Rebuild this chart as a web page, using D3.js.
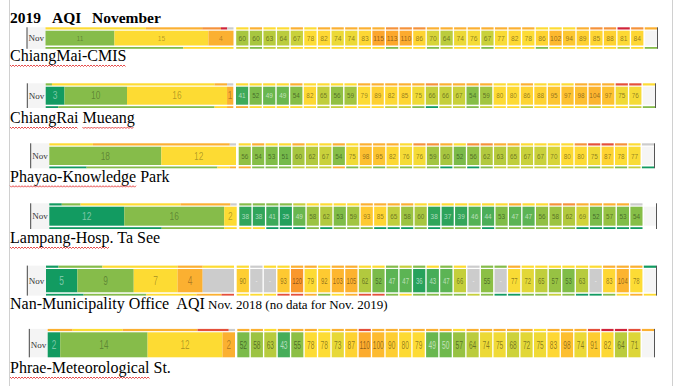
<!DOCTYPE html>
<html>
<head>
<meta charset="utf-8">
<script src="https://cdn.jsdelivr.net/npm/d3@7"></script>
<style>
  body { margin: 0; background: #fff; }
  svg { display: block; }
  text { white-space: pre; }
</style>
</head>
<body>
<script>
const width = 674;
const height = 386;

// daily AQI, 1..30 Nov (null = no data)
const aqiChiangMai = [60,60,63,64,67,78,82,74,74,83,115,113,110,86,70,64,74,76,67,77,82,78,86,102,94,89,85,88,81,84];
const aqiChiangRai = [41,52,49,49,54,82,65,56,59,79,89,82,85,75,66,66,67,54,59,80,80,86,88,95,97,98,104,97,75,76];
const aqiPhayao    = [56,54,53,51,60,62,67,54,75,98,95,82,76,76,59,60,52,56,62,63,65,67,67,70,80,80,75,87,78,77];
const aqiLampang   = [38,38,41,35,49,58,62,53,59,93,85,65,58,60,38,37,39,46,44,53,47,47,56,58,62,69,52,57,53,54];
const aqiNan       = [90,null,null,93,120,79,92,103,105,62,52,47,47,36,43,47,66,null,55,null,77,72,65,57,53,63,null,83,104,78];
const aqiPhrae     = [52,58,63,43,55,78,78,73,87,110,100,90,80,79,49,50,57,64,74,75,68,72,75,83,98,74,91,82,64,71];

// days per level: 0-50, 51-74, 75-100, 101+, no data
const levelColors = ["#129b61", "#86bc4a", "#fddb33", "#fbb031", "#cccccc"];
const countsChiangMai = [0, 11, 15, 4, 0];
const countsChiangRai = [3, 10, 16, 1, 0];
const countsPhayao    = [0, 18, 12, 0, 0];
const countsLampang   = [12, 16, 2, 0, 0];
const countsNan       = [5, 9, 7, 4, 5];
const countsPhrae     = [2, 14, 12, 2, 0];

// thin strips of the neighbouring months (colour codes)
const edgeColors = {G: "#129b61", g: "#86bc4a", l: "#c6cf3c", y: "#fddb33", o: "#fbb031",
                    O: "#f5923a", r: "#e4503a", R: "#d0243a", x: "#cccccc"};
const sumTop = [
  [["y",16],["o",9],["O",3],["R",1],["x",1]],
  [["g",1],["y",26],["o",2],["x",1]],
  [["y",7],["o",22],["x",1]],
  [["G",2],["g",3],["y",16],["o",8],["x",1]],
  [["G",2],["g",7],["y",12],["o",4],["y",5]],
  [["o",4],["y",8],["o",12],["r",5],["x",1]]
];
const sumBottom = [
  [["g",22],["y",8]],
  [["G",2],["g",25],["y",2],["o",1]],
  [["G",6],["g",21],["y",2],["o",1]],
  [["G",18],["g",10],["y",2]],
  [["G",6],["g",10],["y",8],["o",4],["r",2]],
  []
];
const dayTop = [
  "yoyyoyoooooOOOooooooooyyyoOOROox",
  "yyyyoyyyyoooooOooooyyoyyyooorryx",
  "yoyyoyyoyoooyOOoyOOooyyyyOrrOyx",
  "gggglyyyyooooyyyyyyyoyyOOoooox",
  "yxyyooyooyyglgygyxggoyyyyyyoooG",
  "ooyoooyoorooooooyoooooyooorRRrox"
];
const dayBottom = [
  "lgllyyyyyyygyyglyygyyygyyyyylyg",
  "oyyyyyllyyyllgGllglyylyyyylyylgG",
  "ogggllloglglglgGgGglllllllglglG",
  "yyGGGgGgggGGGgGgggGgggglgGGGGG",
  "yyyrrogyorrgygggglgGGgglgGGgyoy",
  ""
];

const stations = [
  {aqi: aqiChiangMai, counts: countsChiangMai,
   label: [{t: "ChiangMai-CMIS", err: true}]},
  {aqi: aqiChiangRai, counts: countsChiangRai,
   label: [{t: "ChiangRai", err: true}, {t: " "}, {t: "Mueang", err: true}]},
  {aqi: aqiPhayao, counts: countsPhayao,
   label: [{t: "Phayao-Knowledge", err: true}, {t: " Park"}]},
  {aqi: aqiLampang, counts: countsLampang,
   label: [{t: "Lampang-Hosp", err: true}, {t: ". Ta See"}]},
  {aqi: aqiNan, counts: countsNan,
   label: [{t: "Nan-Municipality Office  AQI"}, {t: " Nov. 2018 (no data for Nov. 2019)", small: true}]},
  {aqi: aqiPhrae, counts: countsPhrae,
   label: [{t: "Phrae-Meteorological", err: true}, {t: " St."}]}
];

// where each pasted strip sits on the page
const rowLayout = [
  {x0: 27,   sx: 45.5, se: 233.5, dx: 236.2, de: 657, y: 30.7,  h: 14.8, lab: 61,  fs: 7.5, fx: 0.9,  sfs: 7.5,  sfx: 0.9},
  {x0: 27.3, sx: 45.7, se: 233.3, dx: 236,   de: 655, y: 86.7,  h: 18,   lab: 123, fs: 7.5, fx: 0.85, sfs: 10.5, sfx: 0.8},
  {x0: 30.7, sx: 49.3, se: 236,   dx: 238.7, de: 654, y: 146.7, h: 18.3, lab: 181.7, fs: 8, fx: 0.8, sfs: 10.5, sfx: 0.8},
  {x0: 30.7, sx: 49.3, se: 236.7, dx: 239.3, de: 656, y: 206.7, h: 19,   lab: 243, fs: 8,   fx: 0.8,  sfs: 10.5, sfx: 0.8},
  {x0: 27.3, sx: 46,   se: 234,   dx: 236.7, de: 656, y: 269,   h: 23.3, lab: 309.3, fs: 8.5, fx: 0.7, sfs: 12, sfx: 0.7},
  {x0: 29.3, sx: 47.7, se: 235,   dx: 237.3, de: 654, y: 332.3, h: 25,   lab: 373, fs: 11,  fx: 0.6,  sfs: 12.5, sfx: 0.65}
];

const aqiColor = d3.scaleLinear()
  .domain([35, 45, 50, 55, 62, 68, 74, 78, 88, 98, 108, 116, 122])
  .range(["#23a05c","#4fb058","#6fb94d","#8cbf45","#b2c93e","#cdd23a","#ecd936",
          "#fddc35","#fed232","#fdbf30","#fcad2e","#fca52d","#f7902c"])
  .clamp(true);

const svg = d3.select("body").append("svg")
  .attr("width", width)
  .attr("height", height);

// page margin lines
svg.append("line").attr("x1", 9.5).attr("x2", 9.5).attr("y1", 0).attr("y2", height)
  .attr("stroke", "#d0d0d0");
svg.append("line").attr("x1", 672.5).attr("x2", 672.5).attr("y1", 0).attr("y2", height)
  .attr("stroke", "#d0d0d0");

// title
const title = svg.append("text")
  .attr("y", 22.5)
  .attr("font-family", "Liberation Serif, Times New Roman, serif")
  .attr("font-weight", "bold")
  .attr("font-size", 15.5);
title.append("tspan").attr("x", 10).text("2019");
title.append("tspan").attr("x", 52).text("AQI");
title.append("tspan").attr("x", 92).text("November");

function drawEdge(g, segs, x, y, h) {
  let acc = 0;
  segs.forEach(([c, n]) => {
    g.append("rect")
      .attr("x", x(acc)).attr("y", y)
      .attr("width", x(acc + n) - x(acc)).attr("height", h)
      .attr("fill", edgeColors[c]);
    acc += n;
  });
}

function drawDayEdge(g, codes, band, y, h) {
  g.selectAll(null)
    .data(codes.split("").slice(0, 31))
    .join("rect")
      .attr("x", (d, i) => band(i))
      .attr("y", y)
      .attr("width", band.bandwidth())
      .attr("height", h)
      .attr("fill", d => edgeColors[d]);
}

stations.forEach((st, r) => {
  const L = rowLayout[r];
  const g = svg.append("g");
  const sumX = d3.scaleLinear().domain([0, 30]).range([L.sx, L.se]);
  const band = d3.scaleBand().domain(d3.range(31)).range([L.dx, L.de]).paddingInner(0.1);
  const topY = L.y - 3.4, botY = L.y + L.h + 1.5;

  // Nov box
  g.append("rect")
    .attr("x", L.x0).attr("y", topY)
    .attr("width", L.sx - L.x0).attr("height", (r === 5 ? L.y + L.h : botY + 1.8) - topY)
    .attr("fill", "#f4f4f4");
  g.append("line")
    .attr("x1", L.x0).attr("x2", L.x0)
    .attr("y1", topY).attr("y2", r === 5 ? L.y + L.h : botY + 1.8)
    .attr("stroke", "#444").attr("stroke-width", 1);
  g.append("text")
    .attr("x", L.x0 + 1.5).attr("y", L.y + L.h / 2 + 3)
    .attr("font-family", "Liberation Serif, serif")
    .attr("font-size", 9)
    .attr("fill", "#333")
    .text("Nov");

  // neighbour strips
  drawEdge(g, sumTop[r], sumX, topY, 2.2);
  drawEdge(g, sumBottom[r], sumX, botY, 1.8);
  drawDayEdge(g, dayTop[r], band, topY, 2.2);
  if (dayBottom[r]) drawDayEdge(g, dayBottom[r], band, botY, 1.8);

  // summary bar
  const segs = [];
  let acc = 0;
  st.counts.forEach((n, i) => { segs.push({n, i, x0: acc}); acc += n; });
  const sg = g.selectAll(null).data(segs.filter(d => d.n > 0)).join("g");
  sg.append("rect")
    .attr("x", d => sumX(d.x0)).attr("y", L.y)
    .attr("width", d => sumX(d.x0 + d.n) - sumX(d.x0)).attr("height", L.h)
    .attr("fill", d => levelColors[d.i]);
  sg.filter(d => d.i < 4).append("text")
    .attr("transform", d => `translate(${(sumX(d.x0) + sumX(d.x0 + d.n)) / 2},${L.y + L.h / 2 + L.sfs * 0.36}) scale(${L.sfx},1)`)
    .attr("text-anchor", "middle")
    .attr("font-family", "Liberation Sans, Arial, sans-serif")
    .attr("font-size", L.sfs)
    .attr("fill", d => d.i === 0 ? "#fff" : "#000")
    .attr("fill-opacity", d => d.i === 0 ? 0.45 : 0.3)
    .text(d => d.n);

  // daily cells
  const days = st.aqi.map((v, i) => ({v, i})).concat([{v: undefined, i: 30}]);
  const cg = g.selectAll(null).data(days).join("g");
  cg.append("rect")
    .attr("x", d => band(d.i)).attr("y", L.y)
    .attr("width", band.bandwidth()).attr("height", L.h)
    .attr("fill", d => d.v === undefined ? "#f5f5f5" : d.v === null ? "#cccccc" : aqiColor(d.v));
  cg.filter(d => d.v !== undefined).append("text")
    .attr("transform", d => `translate(${band(d.i) + band.bandwidth() / 2},${L.y + L.h / 2 + L.fs * 0.36}) scale(${L.fx},1)`)
    .attr("text-anchor", "middle")
    .attr("font-family", "Liberation Sans, Arial, sans-serif")
    .attr("font-size", L.fs)
    .attr("fill", d => d.v === null || d.v <= 50 ? "#fff" : "#000")
    .attr("fill-opacity", d => d.v === null || d.v <= 50 ? 0.6 : 0.45)
    .text(d => d.v === null ? "-" : d.v);

  // right border
  g.append("line")
    .attr("x1", L.de + 0.5).attr("x2", L.de + 0.5)
    .attr("y1", topY).attr("y2", r === 5 ? L.y + L.h : botY + 1.8)
    .attr("stroke", "#555");

  // station label
  let lx = 10;
  st.label.forEach(seg => {
    const t = g.append("text")
      .attr("x", lx).attr("y", L.lab)
      .attr("font-family", "Liberation Serif, Times New Roman, serif")
      .attr("font-size", seg.small ? 13 : 16)
      .attr("fill", "#000")
      .text(seg.t);
    const w = t.node().getComputedTextLength();
    if (seg.err) {
      let p = "M" + lx + "," + (L.lab + 4);
      for (let x = lx + 1.5, k = 1; x <= lx + w; x += 1.5, k++) {
        p += "L" + x + "," + (L.lab + 4 + (k % 2 ? 1.5 : 0));
      }
      g.append("path").attr("d", p)
        .attr("fill", "none").attr("stroke", "#e02020").attr("stroke-width", 0.8);
    }
    lx += w;
  });
});
</script>
</body>
</html>
